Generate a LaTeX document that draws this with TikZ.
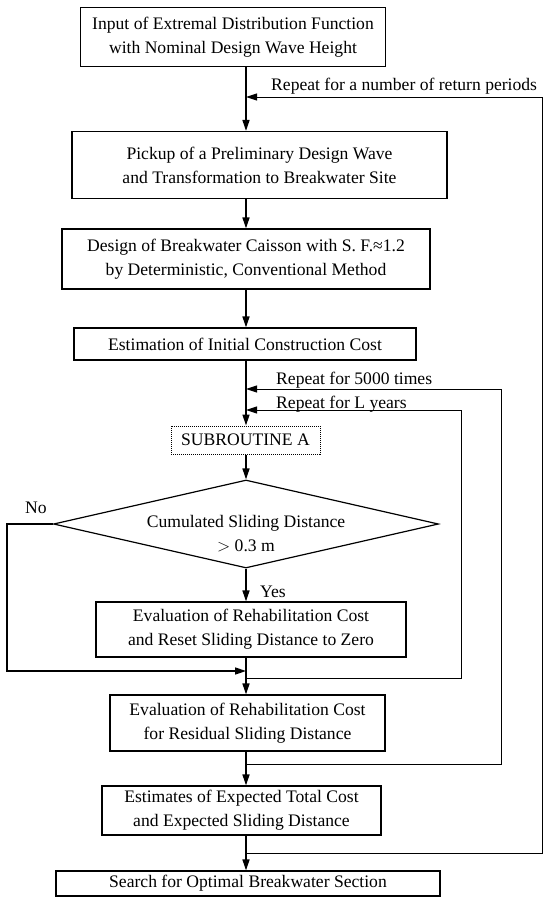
\documentclass[tikz,border=0pt]{standalone}
\usepackage{fontspec}
\setmainfont{Liberation Serif}
\usetikzlibrary{arrows.meta,shapes.geometric}
\begin{document}
\begin{tikzpicture}[
    x=1pt, y=-1pt,
    font=\fontsize{17.6}{24}\selectfont,
    process/.style={
        rectangle,
        draw,
        line width=1.2pt,
        align=center,
        inner sep=0pt
    },
    subbox/.style={
        rectangle,
        draw,
        densely dotted,
        line width=1pt,
        align=center,
        inner sep=0pt
    },
    decision/.style={
        diamond,
        draw,
        line width=1.2pt,
        aspect=4.4,
        inner sep=0pt
    },
    flow/.style={
        -{Triangle[length=11pt,width=7pt]},
        line width=1.6pt
    },
    back/.style={
        -{Triangle[length=11pt,width=7pt]},
        line width=1pt
    },
    note/.style={
        anchor=west,
        inner sep=0pt
    }
]
\useasboundingbox (0,0) rectangle (544,897);

% Main line
\coordinate (spine) at (246,0);

% Steps
\node [process, minimum width=305, minimum height=59] (inp) at (233,37) {Input of Extremal Distribution Function\\with Nominal Design Wave Height};
\node [process, minimum width=375, minimum height=67] (pick) at (259.5,165) {Pickup of a Preliminary Design Wave\\and Transformation to Breakwater Site};
\node [process, minimum width=368, minimum height=60] (design) at (246,259) {Design of Breakwater Caisson with S. F.≈1.2\\by Deterministic, Conventional Method};
\node [process, minimum width=342, minimum height=32] (cost) at (245,344) {Estimation of Initial Construction Cost};
\node [subbox, minimum width=149, minimum height=28] (suba) at (245.5,440) {SUBROUTINE A};
\node [decision, minimum width=385, minimum height=88] (dec) at (246,524) {};
\node [align=center, inner sep=0pt] (dectext) at (246,534) {Cumulated Sliding Distance\\$>$ 0.3 m};
\node [process, minimum width=310, minimum height=55] (rehab) at (251,629.5) {Evaluation of Rehabilitation Cost\\and Reset Sliding Distance to Zero};
\node [process, minimum width=275, minimum height=56] (resid) at (247.5,723) {Evaluation of Rehabilitation Cost\\for Residual Sliding Distance};
\node [process, minimum width=279, minimum height=49] (total) at (241.5,810.5) {Estimates of Expected Total Cost\\and Expected Sliding Distance};
\node [process, minimum width=384, minimum height=25] (search) at (248,883.5) {Search for Optimal Breakwater Section};

% Loop labels
\node [note] (rep1) at (271,86) {Repeat for a number of return periods};
\node [note] (rep2) at (276,380) {Repeat for 5000 times};
\node [note] (rep3) at (276,404) {Repeat for L years};
\node [note] (no) at (25,508) {No};
\node [note] (yes) at (260,592) {Yes};

% Loop corners
\coordinate (m1) at (246,97);
\coordinate (m2) at (246,389);
\coordinate (m3) at (246,410);
\coordinate (j1) at (246,853);
\coordinate (j2) at (246,764);
\coordinate (j3) at (246,678);
\coordinate (jn) at (246,671);
\coordinate (r1) at (542,853);
\coordinate (r2) at (501,764);
\coordinate (r3) at (461,678);
\coordinate (l1) at (7,671);

% Main flow
\draw [flow] (inp.south -| spine) -- (pick.north -| spine);
\draw [flow] (pick.south -| spine) -- (design.north -| spine);
\draw [flow] (design.south -| spine) -- (cost.north -| spine);
\draw [flow] (cost.south -| spine) -- (suba.north -| spine);
\draw [flow] (suba.south -| spine) -- (dec.north);
\draw [flow] (dec.south) -- (rehab.north -| spine);
\draw [flow] (rehab.south -| spine) -- (resid.north -| spine);
\draw [flow] (resid.south -| spine) -- (total.north -| spine);
\draw [flow] (total.south -| spine) -- (search.north -| spine);

% No branch
\draw [flow] (dec.west) -| (l1) -- (jn);

% Repeat loops
\draw [back] (j1) -- (r1) |- (m1);
\draw [back] (j2) -- (r2) |- (m2);
\draw [back] (j3) -- (r3) |- (m3);

\end{tikzpicture}
\end{document}
